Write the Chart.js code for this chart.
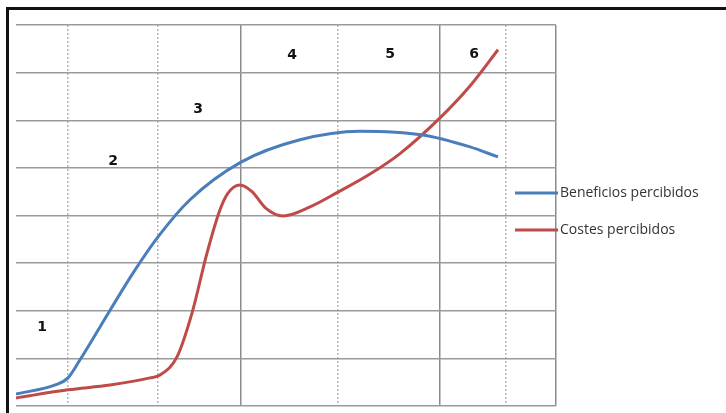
<!DOCTYPE html>
<html>
<head>
<meta charset="utf-8">
<script src="https://cdn.jsdelivr.net/npm/chart.js@4"></script>
<style>
  html, body { margin: 0; padding: 0; background: #fff; overflow: hidden; }
  .frame {
    position: absolute; left: 6px; top: 7px; width: 760px; height: 430px;
    border-top: 3px solid #111; border-left: 3px solid #111;
  }
  canvas { display: block; }
</style>
</head>
<body>
<div class="frame"><canvas id="chart" width="717" height="403"></canvas></div>
<script>
// Series (x in arbitrary horizontal units, y in grid rows)
const seriesLabels = ["Beneficios percibidos", "Costes percibidos"];

const benefX = [0, 40, 52, 64, 84, 117, 142, 174, 225, 284, 344, 407, 454, 482];
const benefY = [0.25, 0.45, 0.59, 0.97, 1.66, 2.79, 3.55, 4.33, 5.12, 5.59, 5.77, 5.69, 5.44, 5.23];

const costX = [0, 52, 94, 134, 144, 161, 176, 191, 204, 212, 224, 236, 250, 267, 294, 322, 354, 384, 424, 454, 482];
const costY = [0.17, 0.34, 0.44, 0.59, 0.65, 1.03, 1.95, 3.21, 4.12, 4.47, 4.64, 4.5, 4.15, 3.99, 4.18, 4.49, 4.87, 5.3, 6.05, 6.72, 7.48];

// vertical grid lines (some dotted) and stage numbers
const gridX = [52, 142, 225, 322, 424, 490, 540];
const dottedX = [52, 142, 322, 490];

const stageLabels = ["1", "2", "3", "4", "5", "6"];
const stageX = [26, 97, 182, 276, 374, 458];
const stageY = [1.66, 5.13, 6.22, 7.37, 7.39, 7.39];

const toPoints = (xs, ys) => xs.map((x, i) => ({ x, y: ys[i] }));

const overlay = {
  id: "overlay",
  afterDatasetsDraw(chart) {
    const { ctx, scales: { x, y } } = chart;
    ctx.save();
    ctx.font = 'bold 14px "DejaVu Sans", sans-serif';
    ctx.fillStyle = "#111";
    ctx.textAlign = "center";
    ctx.textBaseline = "middle";
    stageLabels.forEach((t, i) => {
      ctx.fillText(t, x.getPixelForValue(stageX[i]), y.getPixelForValue(stageY[i]));
    });

    // legend sits partly over the plot, so it is drawn by hand
    ctx.font = '14px "Open Sans", sans-serif';
    ctx.textAlign = "left";
    chart.data.datasets.forEach((ds, i) => {
      const ly = 183 + i * 37;
      ctx.strokeStyle = ds.borderColor;
      ctx.lineWidth = 3;
      ctx.beginPath();
      ctx.moveTo(506, ly);
      ctx.lineTo(549, ly);
      ctx.stroke();
      ctx.fillStyle = "#333";
      ctx.fillText(ds.label, 551, ly);
    });
    ctx.restore();
  },
};

new Chart(document.getElementById("chart"), {
  type: "line",
  data: {
    datasets: [
      {
        label: seriesLabels[0],
        data: toPoints(benefX, benefY),
        borderColor: "#4a7ebb",
        borderWidth: 3,
        pointRadius: 0,
        cubicInterpolationMode: "monotone",
      },
      {
        label: seriesLabels[1],
        data: toPoints(costX, costY),
        borderColor: "#be4b48",
        borderWidth: 3,
        pointRadius: 0,
        cubicInterpolationMode: "monotone",
      },
    ],
  },
  options: {
    responsive: false,
    animation: false,
    layout: { padding: { left: 7, top: 15, right: 170, bottom: 7 } },
    plugins: { legend: { display: false }, tooltip: { enabled: false } },
    scales: {
      x: {
        type: "linear",
        min: 0,
        max: 540,
        afterBuildTicks: (scale) => {
          scale.ticks = gridX.map((v) => ({ value: v }));
        },
        ticks: { display: false },
        grid: {
          drawTicks: false,
          lineWidth: 1.5,
          color: (c) => (c.tick && dottedX.includes(c.tick.value) ? "#b4b4b4" : "#8c8c8c"),
        },
        border: {
          display: false,
          dash: (c) => (c.tick && dottedX.includes(c.tick.value) ? [2, 2] : []),
        },
      },
      y: {
        min: 0,
        max: 8,
        ticks: { display: false, stepSize: 1 },
        grid: { drawTicks: false, lineWidth: 1.5, color: "#9a9a9a" },
        border: { display: false },
      },
    },
  },
  plugins: [overlay],
});
</script>
</body>
</html>
